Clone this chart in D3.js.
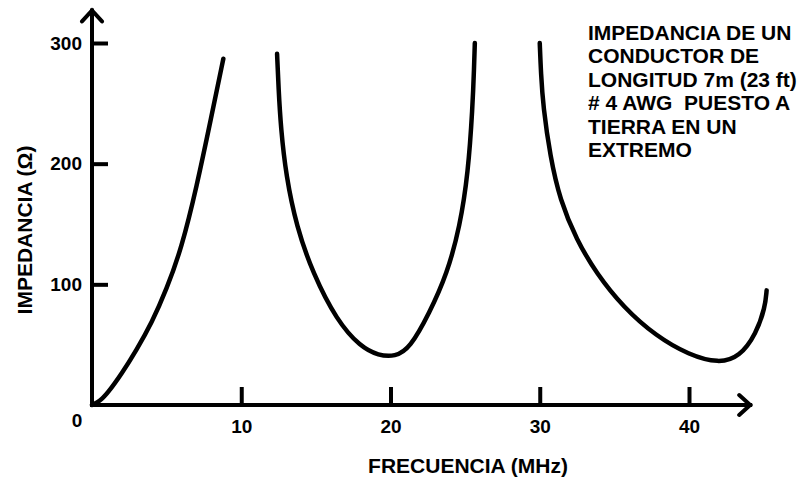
<!DOCTYPE html>
<html>
<head>
<meta charset="utf-8">
<script src="https://cdn.jsdelivr.net/npm/d3@7"></script>
<style>
  body { margin: 0; background: #fff; }
  svg { display: block; font-family: "Liberation Sans", Arial, sans-serif; font-weight: bold; }
</style>
</head>
<body>
<div id="chart"></div>
<script>
// tick values
const freqTicks = [10, 20, 30, 40];
const impTicks = [100, 200, 300];

// [frequency MHz, impedance ohm]
const curve1 = [[0, 0], [0.5, 3], [1, 9], [2, 26], [3, 46], [4, 68], [5, 96], [6, 130], [7, 180], [8, 239], [8.8, 287]];
const curve2 = [[12.4, 291], [12.5, 262], [12.65, 230], [13.0, 190], [13.7, 148], [14.8, 109], [16.4, 70], [18, 48], [19.2, 41], [20.3, 40], [21.3, 47], [22.6, 76], [23.8, 109], [24.65, 148], [25.2, 192], [25.5, 247], [25.6, 280], [25.65, 300]];
const curve3 = [[30, 300], [30.08, 275], [30.23, 247], [30.7, 206], [31.35, 170], [32.46, 137], [33.8, 109], [35.6, 81], [37.8, 57], [40, 41.5], [42, 34.5], [43.4, 40], [44.5, 59], [45.1, 81], [45.2, 95]];

const titleLines = ['IMPEDANCIA DE UN', 'CONDUCTOR DE', 'LONGITUD 7m (23 ft)', '# 4 AWG  PUESTO A', 'TIERRA EN UN', 'EXTREMO'];

const width = 799;
const height = 477;

const svg = d3.select('#chart')
              .append('svg')
              .attr('width', width)
              .attr('height', height);

const x = d3.scaleLinear().domain([0, 40]).range([92, 689]);
const y = d3.scaleLinear().domain([0, 300]).range([405, 43]);

const xEnd = 44.1;   // where the x arrow stops
const yEnd = 327;    // where the y arrow stops

const xAxis = d3.axisBottom(x)
                .tickValues(freqTicks)
                .tickSizeInner(-18)
                .tickSizeOuter(0)
                .tickPadding(15)
                .tickFormat(d3.format('d'));

const yAxis = d3.axisLeft(y)
                .tickValues(impTicks)
                .tickSizeInner(-16)
                .tickSizeOuter(0)
                .tickPadding(10)
                .tickFormat(d3.format('d'));

const gx = svg.append('g')
              .attr('transform', 'translate(0,' + y(0) + ')')
              .call(xAxis);

const gy = svg.append('g')
              .attr('transform', 'translate(' + x(0) + ',0)')
              .call(yAxis);

[gx, gy].forEach(g => {
  g.select('.domain').remove();
  g.selectAll('line').attr('stroke', '#000').attr('stroke-width', 4);
  g.selectAll('text')
   .attr('fill', '#000')
   .attr('font-size', 19)
   .attr('font-weight', 'bold')
   .attr('font-family', '"Liberation Sans", Arial, sans-serif');
});

// axis lines with open arrow heads
const axisPath = d3.path();
axisPath.moveTo(x(0), y(0));
axisPath.lineTo(x(xEnd), y(0));
axisPath.moveTo(x(0), y(0));
axisPath.lineTo(x(0), y(yEnd));

svg.append('path')
   .attr('d', axisPath.toString())
   .attr('fill', 'none')
   .attr('stroke', '#000')
   .attr('stroke-width', 4)
   .attr('stroke-linecap', 'square');

const heads = d3.path();
heads.moveTo(x(xEnd) - 11, y(0) - 10);
heads.lineTo(x(xEnd), y(0));
heads.lineTo(x(xEnd) - 11, y(0) + 10);
heads.moveTo(x(0) - 10, y(yEnd) + 11);
heads.lineTo(x(0), y(yEnd));
heads.lineTo(x(0) + 10, y(yEnd) + 11);

svg.append('path')
   .attr('d', heads.toString())
   .attr('fill', 'none')
   .attr('stroke', '#000')
   .attr('stroke-width', 4)
   .attr('stroke-linecap', 'round')
   .attr('stroke-linejoin', 'miter');

// origin label
svg.append('text')
   .attr('x', x(0) - 15)
   .attr('y', y(0) + 22)
   .attr('text-anchor', 'middle')
   .attr('font-size', 19)
   .text('0');

// the impedance curves
const line = d3.line()
               .x(d => x(d[0]))
               .y(d => y(d[1]))
               .curve(d3.curveBasis);

svg.selectAll('.curve')
   .data([curve1, curve2, curve3])
   .join('path')
   .attr('class', 'curve')
   .attr('d', line)
   .attr('fill', 'none')
   .attr('stroke', '#000')
   .attr('stroke-width', 4.5)
   .attr('stroke-linecap', 'round');

// axis titles
svg.append('text')
   .attr('x', 468)
   .attr('y', 473)
   .attr('text-anchor', 'middle')
   .attr('font-size', 21)
   .text('FRECUENCIA (MHz)');

svg.append('text')
   .attr('transform', 'translate(32,230) rotate(-90)')
   .attr('text-anchor', 'middle')
   .attr('font-size', 21)
   .text('IMPEDANCIA (Ω)');

// note in the upper right
svg.append('text')
   .attr('x', 588)
   .attr('y', 40)
   .attr('font-size', 21)
   .selectAll('tspan')
   .data(titleLines)
   .join('tspan')
   .attr('x', 588)
   .attr('dy', (d, i) => i === 0 ? 0 : 23.4)
   .style('white-space', 'pre')
   .text(d => d);
</script>
</body>
</html>
